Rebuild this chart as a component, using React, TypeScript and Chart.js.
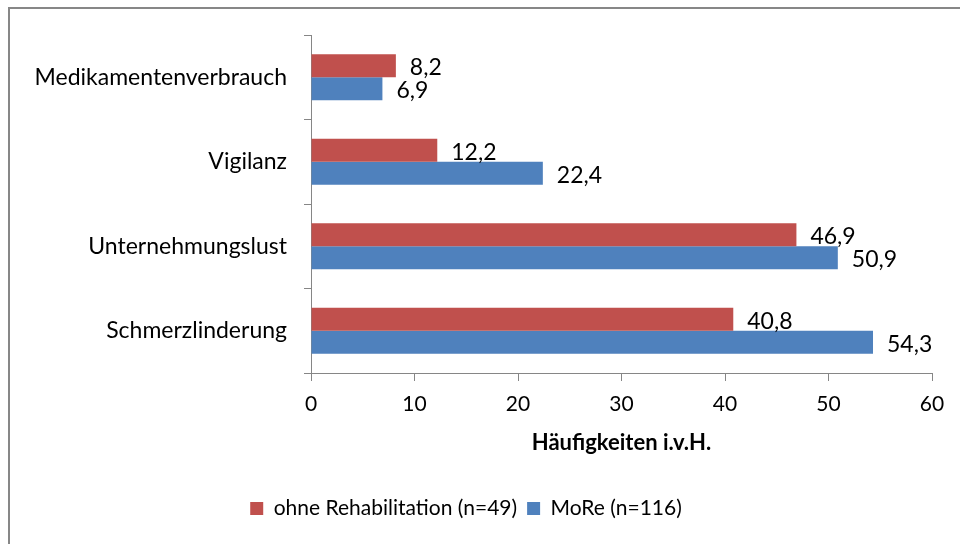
import React, { useEffect, useRef } from "react";
import { Chart, registerables } from "chart.js";

Chart.register(...registerables);

const categories = ["Medikamentenverbrauch", "Vigilanz", "Unternehmungslust", "Schmerzlinderung"];
const seriesNames = ["ohne Rehabilitation (n=49)", "MoRe (n=116)"];
const ohneReha = [8.2, 12.2, 46.9, 40.8];
const more = [6.9, 22.4, 50.9, 54.3];
const xTicks = [0, 10, 20, 30, 40, 50, 60];
const axisTitle = "Häufigkeiten i.v.H.";

const FONT = "Lato, 'Open Sans', sans-serif";
const fmt = (v: number) => v.toFixed(1).replace(".", ",");

const valueLabels = {
  id: "valueLabels",
  afterDatasetsDraw(chart: any) {
    const ctx = chart.ctx;
    ctx.save();
    ctx.font = `23px ${FONT}`;
    ctx.fillStyle = "#000";
    ctx.textAlign = "left";
    ctx.textBaseline = "middle";
    chart.data.datasets.forEach((ds: any, i: number) => {
      const meta = chart.getDatasetMeta(i);
      meta.data.forEach((el: any, j: number) => {
        ctx.fillText(fmt(ds.data[j]), el.x + 14, el.y + 2);
      });
    });
    ctx.restore();
  },
};

export default function App() {
  const ref = useRef<HTMLCanvasElement | null>(null);
  useEffect(() => {
    if (!ref.current) return;
    const chart = new Chart(ref.current, {
      type: "bar",
      data: {
        labels: categories,
        datasets: [
          { label: seriesNames[0], data: ohneReha, backgroundColor: "#C0504D", categoryPercentage: 0.544, barPercentage: 1 },
          { label: seriesNames[1], data: more, backgroundColor: "#4F81BD", categoryPercentage: 0.544, barPercentage: 1 },
        ],
      },
      options: {
        indexAxis: "y",
        animation: false,
        responsive: false,
        maintainAspectRatio: false,
        layout: { padding: { top: 35, right: 28, bottom: 15, left: 0 } },
        plugins: {
          legend: {
            position: "bottom",
            labels: {
              boxWidth: 13,
              boxHeight: 13,
              padding: 10,
              color: "#000",
              font: { family: FONT, size: 21 },
            },
          },
          tooltip: { enabled: false },
        },
        scales: {
          x: {
            min: 0,
            max: 60,
            afterBuildTicks: (s: any) => {
              s.ticks = xTicks.map((v) => ({ value: v }));
            },
            afterFit: (s: any) => {
              s.height = 115;
            },
            grid: { drawOnChartArea: false, drawTicks: true, tickLength: 8, color: "#868686" },
            border: { color: "#868686" },
            ticks: { color: "#000", padding: 11, font: { family: FONT, size: 21 } },
            title: {
              display: true,
              text: axisTitle,
              color: "#000",
              font: { family: FONT, size: 22, weight: "bold" },
              padding: { top: 0, bottom: 32 },
            },
          },
          y: {
            afterFit: (s: any) => {
              s.width = 311;
            },
            grid: { drawOnChartArea: false, drawTicks: true, tickLength: 7, color: "#868686", offset: true },
            border: { color: "#868686" },
            ticks: { color: "#000", padding: 17, font: { family: FONT, size: 23 } },
          },
        },
      },
      plugins: [valueLabels],
    });
    return () => chart.destroy();
  }, []);
  return (
    <div style={{ position: "fixed", left: 0, top: 0, width: 960, height: 544, overflow: "hidden", background: "#fff" }}>
      <div
        style={{
          position: "absolute",
          left: 8,
          top: 7,
          width: 1000,
          height: 600,
          borderLeft: "2px solid #878787",
          borderTop: "2px solid #878787",
        }}
      />
      <canvas ref={ref} width={960} height={544} style={{ position: "absolute", left: 0, top: 0, width: 960, height: 544 }} />
    </div>
  );
}
